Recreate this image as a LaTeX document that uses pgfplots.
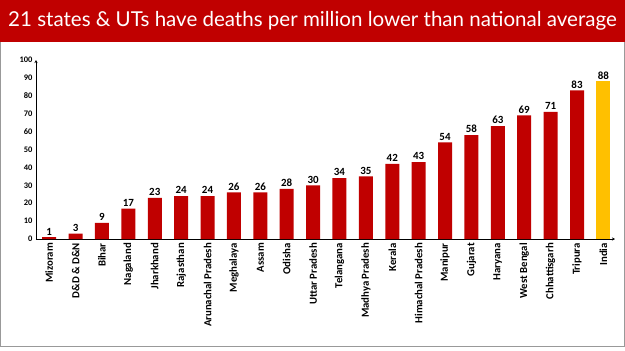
\documentclass[border=0pt]{standalone}
\usepackage{pgfplots}
\pgfplotsset{compat=1.18}
\usetikzlibrary{arrows.meta}
\usepackage{fontspec}
\setmainfont{Carlito}
\newfontfamily\titlefont{Lato}
\definecolor{barred}{HTML}{C00000}
\definecolor{gold}{HTML}{FFC000}
\begin{document}
\begin{tikzpicture}
\fill[white] (0bp,0bp) rectangle (625bp,-351bp);
\fill[barred] (0bp,0bp) rectangle (625bp,-42bp);
\node[anchor=west, text=white, inner sep=0, font=\titlefont\fontsize{20.6}{24}\selectfont] at (8bp,-21bp) {21 states \& UTs have deaths per million lower than national average};
\draw[gray!80, line width=1bp] (0.5bp,-42bp) -- (0.5bp,-346bp) -- (624.5bp,-346bp) -- (624.5bp,-42bp);
\begin{axis}[at={(36bp,-239bp)}, anchor=south west, scale only axis,
  width=579bp, height=179bp,
  xmin=-0.5, xmax=21.44, ymin=0, ymax=100,
  axis x line=bottom, axis y line=left,
  axis line style={black, line width=0.6bp, -{Stealth[length=3bp,width=3bp]}},
  ytick={0,10,...,100}, major tick length=0,
  xtick={0,...,21},
  xticklabels={Mizoram, D\&D \& D\&N, Bihar, Nagaland, Jharkhand, Rajasthan, Arunachal Pradesh, Meghalaya, Assam, Odisha, Uttar Pradesh, Telangana, Madhya Pradesh, Kerala, Himachal Pradesh, Manipur, Gujarat, Haryana, West Bengal, Chhattisgarh, Tripura, India},
  x tick label style={rotate=90, anchor=east, font=\bfseries\fontsize{10.8}{12}\selectfont, inner sep=2bp, xshift=-2bp},
  y tick label style={font=\bfseries\fontsize{8.5}{10}\selectfont},
  /pgf/number format/assume math mode=true,
  clip=false,
  every node near coord/.append style={font=\bfseries\fontsize{11}{12}\selectfont, black, inner sep=2bp},
]
\addplot[ybar, bar width=14bp, bar shift=0pt, fill=barred, draw=none, nodes near coords] table {
x y
0 1
1 3
2 9
3 17
4 23
5 24
6 24
7 26
8 26
9 28
10 30
11 34
12 35
13 42
14 43
15 54
16 58
17 63
18 69
19 71
20 83
};
\addplot[ybar, bar width=14bp, bar shift=0pt, fill=gold, draw=none, nodes near coords] table {
x y
21 88
};
\end{axis}
\end{tikzpicture}
\end{document}
